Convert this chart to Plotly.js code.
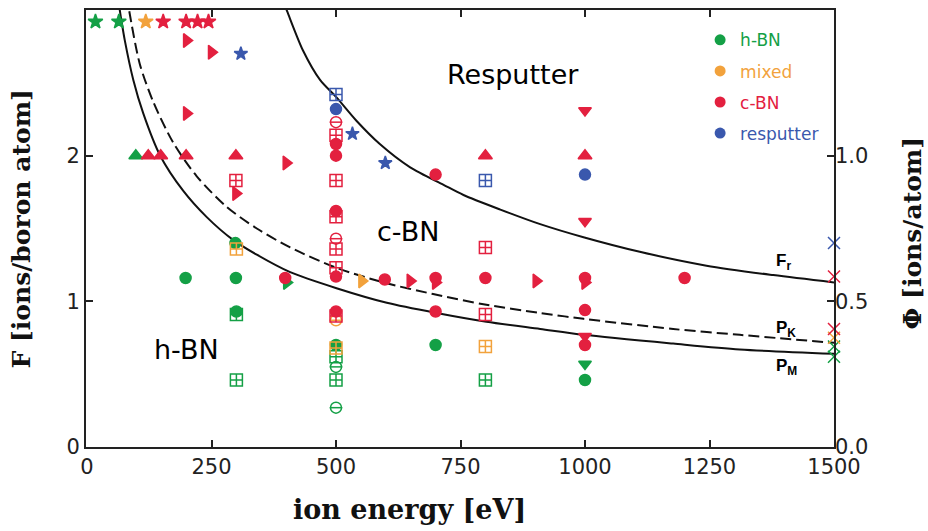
<!DOCTYPE html>
<html>
<head>
<meta charset="utf-8">
<script src="https://cdn.plot.ly/plotly-3.0.1.min.js"></script>
<style>html,body{margin:0;padding:0;background:#fff;}#chart{width:928px;height:531px;}</style>
</head>
<body>
<div id="chart"></div>
<script>
// ---------- axis ticks ----------
const xTicks = [0, 250, 500, 750, 1000, 1250, 1500];
const yTicks = [0, 1, 2, 3];
const y2Ticks = [0.0, 0.5, 1.0, 1.5];
const y2TickText = ["0.0", "0.5", "1.0", "1.5"];

// ---------- boundary curves ----------
const frE = [395, 402, 434, 468, 501, 541, 588, 649, 716, 756, 830, 910, 997, 1110, 1244, 1378, 1500];
const frF = [3.05, 2.99, 2.72, 2.52, 2.40, 2.24, 2.08, 1.92, 1.80, 1.73, 1.63, 1.53, 1.44, 1.34, 1.245, 1.18, 1.13];
const pkE = [80, 85, 106, 133, 173, 220, 280, 341, 408, 501, 595, 695, 796, 910, 997, 1177, 1311, 1500];
const pkF = [3.10, 2.99, 2.63, 2.37, 2.09, 1.86, 1.65, 1.50, 1.37, 1.23, 1.13, 1.05, 0.98, 0.92, 0.88, 0.81, 0.77, 0.715];
const pmE = [64, 67.6, 76, 93, 113, 147, 193, 240, 294, 341, 408, 501, 602, 702, 802, 910, 997, 1177, 1311, 1500];
const pmF = [3.04, 2.96, 2.79, 2.52, 2.29, 2.00, 1.76, 1.58, 1.42, 1.32, 1.20, 1.09, 0.99, 0.92, 0.86, 0.81, 0.77, 0.71, 0.67, 0.64];

// ---------- h-BN (green) ----------
const hStarE = [17, 64];             const hStarF = [2.92, 2.92];
const hTriUpE = [98];                const hTriUpF = [2.00];
const hCircE = [198, 299, 298, 300, 500, 700, 1000];
const hCircF = [1.16, 1.16, 1.40, 0.93, 0.70, 0.70, 0.46];
const hTriRE = [401];                const hTriRF = [1.13];
const hSqE = [300, 300, 500, 500, 800];
const hSqF = [0.91, 0.46, 0.62, 0.46, 0.46];
const hMinusE = [500, 500];          const hMinusF = [0.55, 0.27];
const hTriDE = [1000];               const hTriDF = [0.57];
const hXE = [1500, 1500];            const hXF = [0.69, 0.62];

// ---------- mixed (orange) ----------
const mStarE = [118];                const mStarF = [2.92];
const mSqE = [300, 500, 800];        const mSqF = [1.36, 0.68, 0.69];
const mMinusE = [500];               const mMinusF = [0.87];
const mTriRE = [552];                const mTriRF = [1.14];
const mXE = [1500];                  const mXF = [0.75];

// ---------- c-BN (red) ----------
const cStarE = [153, 199, 222, 244]; const cStarF = [2.92, 2.92, 2.92, 2.92];
const cTriRE = [200, 250, 200, 299, 400, 649, 700, 902, 1000];
const cTriRF = [2.79, 2.71, 2.29, 1.74, 1.95, 1.14, 1.13, 1.14, 1.13];
const cTriUpE = [123, 148, 199, 299, 800, 1000];
const cTriUpF = [2.00, 2.00, 2.00, 2.00, 2.00, 2.00];
const cTriDE = [1000, 1000, 1000];   const cTriDF = [2.31, 1.55, 0.76];
const cCircE = [398, 500, 500, 500, 500, 500, 598, 700, 700, 700, 800, 1000, 1000, 1000, 1200];
const cCircF = [1.16, 2.08, 2.00, 1.62, 1.17, 0.93, 1.15, 1.87, 1.16, 0.93, 1.16, 1.16, 0.94, 0.70, 1.16];
const cSqE = [299, 500, 500, 500, 500, 500, 500, 800, 800];
const cSqF = [1.83, 2.14, 1.83, 1.58, 1.36, 1.23, 0.90, 1.37, 0.91];
const cMinusE = [500, 500];          const cMinusF = [2.23, 1.43];
const cXE = [1500, 1500];            const cXF = [1.17, 0.81];

// ---------- resputter (blue) ----------
const rStarE = [309, 533, 599];      const rStarF = [2.70, 2.15, 1.95];
const rSqE = [500, 800];             const rSqF = [2.42, 1.83];
const rCircE = [500, 1000];          const rCircF = [2.32, 1.87];
const rXE = [1500];                  const rXF = [1.40];

// ---------- legend ----------
const legendNames = ["h-BN", "mixed", "c-BN", "resputter"];

const G = '#14a046', O = '#f2a23c', R = '#e3203f', B = '#3a58ad';
const legendColors = [G, O, R, B];

const traces = [];
function line(x, y, dash) {
  traces.push({x: x, y: y, mode: 'lines', line: {color: '#111', width: 2, dash: dash, shape: 'spline', smoothing: 0.8},
    showlegend: false, hoverinfo: 'skip'});
}
line(frE, frF, 'solid');
line(pkE, pkF, '11px,5px');
line(pmE, pmF, 'solid');

function mk(x, y, color, symbol, size) {
  traces.push({x: x, y: y, mode: 'markers',
    marker: {color: color, symbol: symbol, size: size, line: {color: color, width: 1.5}},
    showlegend: false, cliponaxis: false, hoverinfo: 'skip'});
}
function minus(x, y, color) {
  mk(x, y, color, 'circle-open', 11);
  mk(x, y, color, 'line-ew-open', 9);
}
// green
mk(hStarE, hStarF, G, 'star', 11);
mk(hTriUpE, hTriUpF, G, 'triangle-up', 12);
mk(hSqE, hSqF, G, 'square-cross-open', 12);
minus(hMinusE, hMinusF, G);
mk(hCircE, hCircF, G, 'circle', 11);
mk(hTriRE, hTriRF, G, 'triangle-right', 12);
mk(hTriDE, hTriDF, G, 'triangle-down', 11);
mk(hXE, hXF, G, 'x-thin-open', 12);
// orange
mk(mStarE, mStarF, O, 'star', 11);
mk(mSqE, mSqF, O, 'square-cross-open', 12);
minus(mMinusE, mMinusF, O);
mk(mTriRE, mTriRF, O, 'triangle-right', 12);
mk(mXE, mXF, O, 'x-thin-open', 12);
// red
mk(cStarE, cStarF, R, 'star', 11);
mk(cTriRE, cTriRF, R, 'triangle-right', 12);
mk(cTriUpE, cTriUpF, R, 'triangle-up', 12);
mk(cTriDE, cTriDF, R, 'triangle-down', 11);
mk(cSqE, cSqF, R, 'square-cross-open', 12);
minus(cMinusE, cMinusF, R);
mk(cCircE, cCircF, R, 'circle', 11);
mk(cXE, cXF, R, 'x-thin-open', 12);
// blue
mk(rStarE, rStarF, B, 'star', 10);
mk(rSqE, rSqF, B, 'square-cross-open', 12);
mk(rCircE, rCircF, B, 'circle', 11);
mk(rXE, rXF, B, 'x-thin-open', 12);

// legend entries
legendNames.forEach(function (n, i) {
  traces.push({x: [null], y: [null], mode: 'markers', name: '<span style="color:' + legendColors[i] + '">' + n + '</span>',
    marker: {color: legendColors[i], symbol: 'circle', size: 11}, legendgroup: 'g' + i, showlegend: true});
});
// secondary axis carrier
traces.push({x: [null], y: [null], yaxis: 'y2', mode: 'markers', showlegend: false, hoverinfo: 'skip'});

const tickFont = {family: 'DejaVu Sans', size: 21, color: '#222'};
const titleFont = {family: 'DejaVu Serif', size: 25, color: '#111', weight: 'bold'};
const labelFont = {family: 'DejaVu Sans', size: 27, color: '#000'};
const curveFont = {family: 'Liberation Sans', size: 17, color: '#000'};

const layout = {
  width: 928, height: 531,
  margin: {l: 86, r: 94, t: 10, b: 84},
  paper_bgcolor: '#fff', plot_bgcolor: '#fff',
  showlegend: true,
  legend: {x: 0.821, y: 0.972, xanchor: 'left', yanchor: 'top', bgcolor: 'rgba(0,0,0,0)',
    font: {family: 'DejaVu Sans', size: 17}, tracegroupgap: 6, itemwidth: 30},
  xaxis: {range: [-2, 1500], tickvals: xTicks, ticks: 'inside', ticklen: 7, tickwidth: 2, tickcolor: '#222',
    showline: true, linecolor: '#222', linewidth: 2, mirror: 'ticks', showgrid: false, zeroline: false,
    tickfont: tickFont},
  yaxis: {range: [0, 3], tickvals: yTicks, ticks: 'inside', ticklen: 7, tickwidth: 2, tickcolor: '#222',
    showline: true, linecolor: '#222', linewidth: 2, mirror: true, showgrid: false, zeroline: false,
    tickfont: tickFont},
  yaxis2: {range: [0, 1.5], overlaying: 'y', side: 'right', tickvals: y2Ticks, ticktext: y2TickText,
    ticks: 'inside', ticklen: 7, tickwidth: 2, tickcolor: '#222', showline: false, showgrid: false, zeroline: false,
    tickfont: tickFont},
  annotations: [
    // axis titles
    {xref: 'paper', yref: 'paper', x: 0.433, y: -0.144, text: 'ion energy [eV]', showarrow: false,
      font: Object.assign({}, titleFont, {size: 27}), xanchor: 'center', yanchor: 'middle'},
    {xref: 'paper', yref: 'paper', x: -0.0856, y: 0.50, text: 'F [ions/boron atom]', showarrow: false,
      font: titleFont, textangle: -90, xanchor: 'center', yanchor: 'middle'},
    {xref: 'paper', yref: 'paper', x: 1.105, y: 0.49, text: 'Φ [ions/atom]', showarrow: false,
      font: titleFont, textangle: -90, xanchor: 'center', yanchor: 'middle'},
    // region labels
    {x: 855, y: 2.56, text: 'Resputter', showarrow: false, font: labelFont},
    {x: 645, y: 1.48, text: 'c-BN', showarrow: false, font: labelFont},
    {x: 199, y: 0.67, text: 'h-BN', showarrow: false, font: labelFont},
    // curve labels
    {x: 1398, y: 1.27, text: '<b>F<sub>r</sub></b>', showarrow: false, font: curveFont},
    {x: 1404, y: 0.81, text: '<b>P<sub>K</sub></b>', showarrow: false, font: curveFont},
    {x: 1404, y: 0.55, text: '<b>P<sub>M</sub></b>', showarrow: false, font: curveFont}
  ]
};

Plotly.newPlot('chart', traces, layout, {displayModeBar: false, staticPlot: true});
</script>
</body>
</html>
